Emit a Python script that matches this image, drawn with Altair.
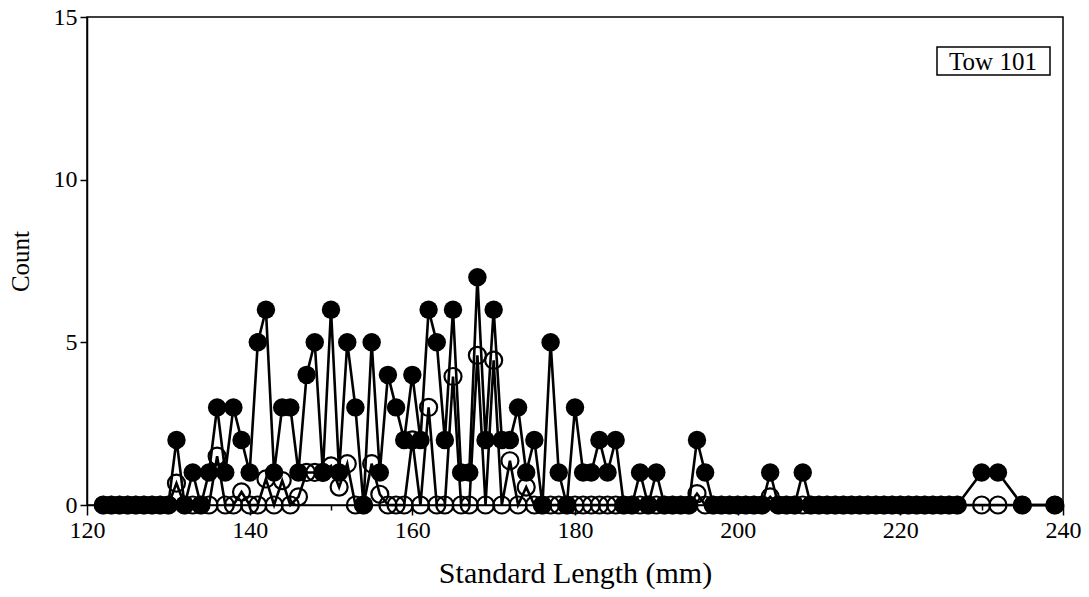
import altair as alt
import pandas as pd

# Standard length (mm) of each size class in the tow
lengths = [
    122, 123, 124, 125, 126, 127, 128, 129, 130,
    131, 132, 133, 134, 135, 136, 137, 138, 139, 140,
    141, 142, 143, 144, 145, 146, 147, 148, 149, 150,
    151, 152, 153, 154, 155, 156, 157, 158, 159, 160,
    161, 162, 163, 164, 165, 166, 167, 168, 169, 170,
    171, 172, 173, 174, 175, 176, 177, 178, 179, 180,
    181, 182, 183, 184, 185, 186, 187, 188, 189, 190,
    191, 192, 193, 194, 195, 196, 197, 198, 199, 200,
    201, 202, 203, 204, 205, 206, 207, 208, 209, 210,
    211, 212, 213, 214, 215, 216, 217, 218, 219, 220,
    221, 222, 223, 224, 225, 226, 227,
    230, 232, 235, 239,
]

# Fish counted in each length class (filled circles)
tow_counts = [
    0, 0, 0, 0, 0, 0, 0, 0, 0,
    2, 0, 1, 0, 1, 3, 1, 3, 2, 1,
    5, 6, 1, 3, 3, 1, 4, 5, 1, 6,
    1, 5, 3, 0, 5, 1, 4, 3, 2, 4,
    2, 6, 5, 2, 6, 1, 1, 7, 2, 6,
    2, 2, 3, 1, 2, 0, 5, 1, 0, 3,
    1, 1, 2, 1, 2, 0, 0, 1, 0, 1,
    0, 0, 0, 0, 2, 1, 0, 0, 0, 0,
    0, 0, 0, 1, 0, 0, 0, 1, 0, 0,
    0, 0, 0, 0, 0, 0, 0, 0, 0, 0,
    0, 0, 0, 0, 0, 0, 0,
    1, 1, 0, 0,
]

# Expected counts per length class (open circles)
expected_counts = [
    0, 0, 0, 0, 0, 0, 0, 0, 0,
    0.67, 0, 0, 0, 0, 1.5, 0, 0, 0.4, 0,
    0, 0.8, 0, 0.75, 0, 0.25, 1.0, 1.0, 1.0, 1.2,
    0.55, 1.27, 0, 0, 1.27, 0.33, 0, 0, 0, 2.0,
    0, 3.0, 0, 0, 3.95, 0, 0, 4.6, 0, 4.45,
    0, 1.36, 0, 0.55, 0, 0, 0, 0, 0, 0,
    0, 0, 0, 0, 0, 0, 0, 0, 0, 0,
    0, 0, 0, 0, 0.35, 0, 0, 0, 0, 0,
    0, 0, 0, 0.25, 0, 0, 0, 0, 0, 0,
    0, 0, 0, 0, 0, 0, 0, 0, 0, 0,
    0, 0, 0, 0, 0, 0, 0,
    0, 0, 0, 0,
]

x_ticks = [120, 130, 140, 150, 160, 170, 180, 190, 200, 210, 220, 230, 240]
y_ticks = [0, 5, 10, 15]
panel_label = ["Tow 101"]

df = pd.DataFrame({"length": lengths, "count": tow_counts, "expected": expected_counts})

FONT = "Liberation Serif"

x_enc = alt.X(
    "length:Q",
    scale=alt.Scale(domain=[120, 240], nice=False, zero=False),
    axis=alt.Axis(
        values=x_ticks,
        labelExpr="datum.value % 20 == 0 ? datum.label : ''",
        labelFlush=False,
        tickSize={"condition": {"test": "datum.value % 20 == 0", "value": 10}, "value": 5},
        title="Standard Length (mm)",
        titleFontSize=30,
        titlePadding=16,
    ),
)

y_scale = alt.Scale(domain=[0, 15], nice=False)
y_axis = alt.Axis(
    values=y_ticks, tickSize=7, labelFlush=False, title="Count",
    titleFontSize=25, titlePadding=20,
)

base = alt.Chart(df)

expected_line = base.mark_line(color="black", strokeWidth=2.6).encode(
    x=x_enc, y=alt.Y("expected:Q", scale=y_scale, axis=y_axis)
)
expected_pts = base.mark_point(
    shape="circle", filled=False, color="black", strokeWidth=2.2, size=290, opacity=1
).encode(x=x_enc, y=alt.Y("expected:Q", scale=y_scale, axis=y_axis))

count_line = base.mark_line(color="black", strokeWidth=2.6).encode(
    x=x_enc, y=alt.Y("count:Q", scale=y_scale, axis=y_axis)
)
count_pts = base.mark_point(
    shape="circle", filled=True, color="black", size=340, opacity=1
).encode(x=x_enc, y=alt.Y("count:Q", scale=y_scale, axis=y_axis))

label_df = pd.DataFrame({"label": panel_label})
label_box = alt.Chart(label_df).mark_rect(
    fill="white", stroke="black", strokeWidth=1.5
).encode(x=alt.value(850), x2=alt.value(963), y=alt.value(30), y2=alt.value(58))
label_text = alt.Chart(label_df).mark_text(
    font=FONT, fontSize=25, color="black", align="center", baseline="middle"
).encode(x=alt.value(906), y=alt.value(45), text="label:N")

chart = (
    alt.layer(expected_line, count_line, expected_pts, count_pts, label_box, label_text)
    .properties(
        width=976,
        height=488,
        autosize=alt.AutoSizeParams(type="none"),
        padding={"left": 87, "top": 17, "right": 26, "bottom": 92},
        background="white",
    )
    .configure_view(stroke="black", strokeWidth=1.5)
    .configure_axis(
        labelFont=FONT,
        titleFont=FONT,
        labelFontSize=24,
        titleFontWeight="normal",
        labelColor="black",
        titleColor="black",
        domainColor="black",
        tickColor="black",
        domainWidth=1.5,
        tickWidth=1.5,
        grid=False,
        labelPadding=3,
    )
)

chart.save("out.html", embed_options={"renderer": "svg", "actions": False})
